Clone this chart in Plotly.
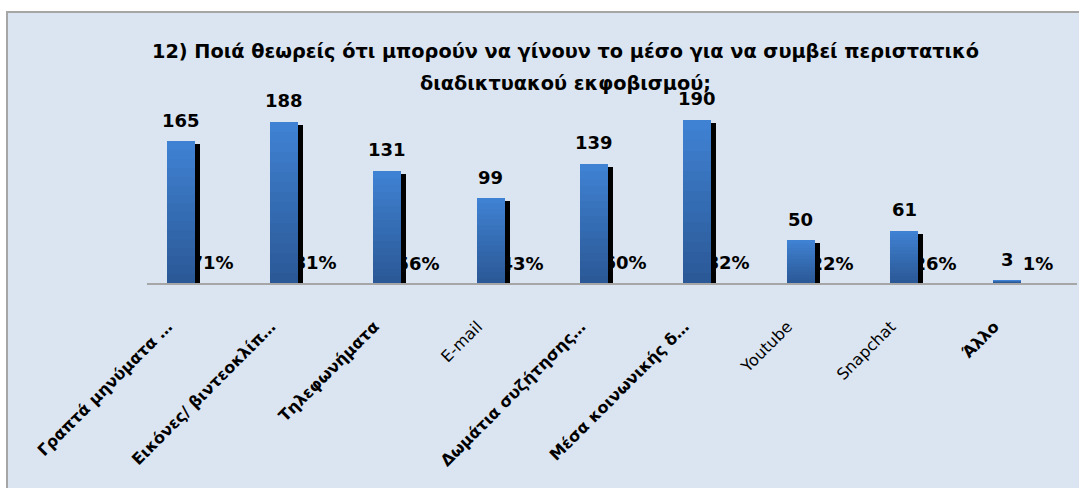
import plotly.graph_objects as go

# ---------------- data ----------------
categories = [
    "Γραπτά μηνύματα …",
    "Εικόνες/ βιντεοκλίπ…",
    "Τηλεφωνήματα",
    "E-mail",
    "Δωμάτια συζήτησης…",
    "Μέσα κοινωνικής δ…",
    "Youtube",
    "Snapchat",
    "Άλλο",
]
counts = [165, 188, 131, 99, 139, 190, 50, 61, 3]
percents = [71, 81, 56, 43, 60, 82, 22, 26, 1]
title_lines = [
    "12) Ποιά θεωρείς ότι μπορούν να γίνουν το μέσο για να συμβεί περιστατικό",
    "διαδικτυακού εκφοβισμού;",
]

# ---------------- layout geometry (pixels) ----------------
W, H = 1079, 488
PX0, PX1 = 147, 1077      # plot area left / right
PY0, PY1 = 110, 283       # plot area top / bottom
YMAX = 201.6
ppu = (PY1 - PY0) / YMAX                  # pixels per value unit
cat_w = (PX1 - PX0) / len(categories)     # pixels per category

bar_w = 28 / cat_w
bar_off = -32 / cat_w
pct_off = bar_off + bar_w + 3 / cat_w
shadow_dx = 5 / cat_w
shadow_dy = 3 / ppu
pct_lift = 6 / ppu

FONT = "DejaVu Sans"
TOP_RGB = (63, 129, 210)
BOT_RGB = (43, 89, 151)


def mix(a, b, t):
    return "rgb(%d,%d,%d)" % tuple(round(a[i] + (b[i] - a[i]) * t) for i in range(3))


def is_greek(s):
    return any("\u0370" <= ch <= "\u03ff" or "\u1f00" <= ch <= "\u1fff" for ch in s)


fig = go.Figure()

# percentage series (tiny values, as in the source chart) with labels
fig.add_trace(go.Bar(
    x=categories, y=[p / 100 for p in percents], base=pct_lift,
    offset=pct_off, width=bar_w,
    marker=dict(color="rgba(0,0,0,0)", line=dict(width=0)),
    text=[f"{p}%" for p in percents], textposition="outside",
    textfont=dict(family=FONT, size=18, color="black", weight="bold"),
    constraintext="none", cliponaxis=False, hoverinfo="skip", showlegend=False,
))

# shadow
fig.add_trace(go.Bar(
    x=categories, y=[max(v - shadow_dy, 0) for v in counts],
    offset=bar_off + shadow_dx, width=bar_w,
    marker=dict(color="black", line=dict(width=0)),
    hoverinfo="skip", showlegend=False,
))

# gradient-filled count bars (stacked overlays, lightest on top)
N = 16
for k in range(N, 0, -1):
    t = (k - 1) / (N - 1)
    fig.add_trace(go.Bar(
        x=categories, y=[v * k / N for v in counts],
        offset=bar_off, width=bar_w,
        marker=dict(color=mix(BOT_RGB, TOP_RGB, t), line=dict(width=0)),
        hoverinfo="skip", showlegend=False,
    ))

annotations = []
for c, v in zip(categories, counts):
    annotations.append(dict(
        x=c, y=v, xref="x", yref="y", text=str(v), showarrow=False,
        xshift=(bar_off + bar_w / 2) * cat_w, yshift=21, yanchor="middle",
        font=dict(family=FONT, size=18, color="black", weight="bold"),
    ))
for line, yc in zip(title_lines, [51.5, 83]):
    annotations.append(dict(
        x=565 / W, y=1 - yc / H, xref="paper", yref="paper", text=line,
        showarrow=False, xanchor="center", yanchor="middle",
        font=dict(family=FONT, size=19.3, color="black", weight="bold"),
    ))

ticktext = [f"<b>{c}</b>" if is_greek(c) else c for c in categories]

fig.update_layout(
    width=W, height=H, autosize=False,
    margin=dict(l=0, r=0, t=0, b=0, pad=0, autoexpand=False),
    paper_bgcolor="white", plot_bgcolor="white",
    barmode="overlay", bargap=0,
    showlegend=False,
    annotations=annotations,
    shapes=[dict(
        type="rect", xref="paper", yref="paper", layer="below",
        x0=7 / W, x1=1.02, y0=-0.02, y1=1 - 12 / H,
        fillcolor="#dbe5f1", line=dict(color="#a6a6a6", width=2),
    )],
    xaxis=dict(
        domain=[PX0 / W, PX1 / W], automargin=False,
        type="category", categoryorder="array", categoryarray=categories,
        tickmode="array", tickvals=categories, ticktext=ticktext,
        tickangle=-45, ticks="", showgrid=False, zeroline=False,
        showline=True, linecolor="#a6a6a6", linewidth=2,
        tickfont=dict(family=FONT, size=16, color="black"),
        ticklabelshift=-31, ticklabelstandoff=26,
        fixedrange=True,
    ),
    yaxis=dict(
        domain=[1 - PY1 / H, 1 - PY0 / H], automargin=False,
        range=[0, YMAX], visible=False, fixedrange=True,
    ),
)

fig.write_html("out.html")
